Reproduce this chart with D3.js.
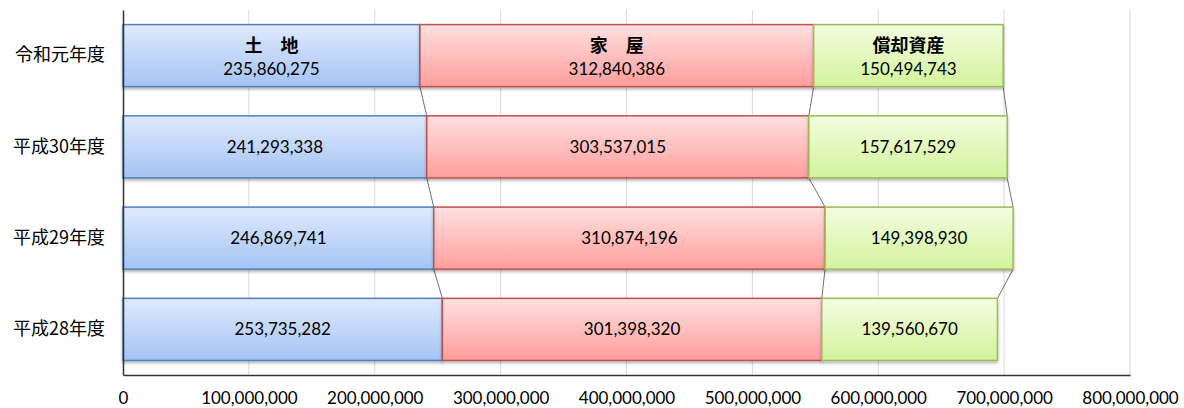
<!DOCTYPE html>
<html>
<head>
<meta charset="utf-8">
<script src="https://cdn.jsdelivr.net/npm/d3@7"></script>
<style>
  body { margin: 0; background: #fff; }
  text { font-family: Lato, "Noto Sans CJK JP", sans-serif; }
</style>
</head>
<body>
<div id="chart"></div>
<script>
// data
const years = ["令和元年度", "平成30年度", "平成29年度", "平成28年度"];
const seriesNames = ["土　地", "家　屋", "償却資産"];
const land = [235860275, 241293338, 246869741, 253735282];
const house = [312840386, 303537015, 310874196, 301398320];
const depreciable = [150494743, 157617529, 149398930, 139560670];
const ticks = [0, 100000000, 200000000, 300000000, 400000000, 500000000, 600000000, 700000000, 800000000];

const width = 1184, height = 408;
const margin = { top: 10, right: 54, bottom: 33, left: 123 };

const svg = d3.select("#chart").append("svg")
  .attr("width", width)
  .attr("height", height);

const x = d3.scaleLinear().domain([0, 800000000]).range([margin.left, width - margin.right]);
const y = d3.scaleBand().domain(years).range([margin.top, height - margin.bottom]).paddingInner(0.32).paddingOuter(0.16);

const defs = svg.append("defs");
const grads = [
  { id: "gLand", top: "#dfeafe", bottom: "#a5c3f4", stroke: "#4f81bd" },
  { id: "gHouse", top: "#ffe0e0", bottom: "#ff9e9c", stroke: "#c0504d" },
  { id: "gDep", top: "#f3fde0", bottom: "#d3f39d", stroke: "#9bbb59" }
];
grads.forEach(g => {
  const lg = defs.append("linearGradient").attr("id", g.id)
    .attr("x1", 0).attr("y1", 0).attr("x2", 0).attr("y2", 1);
  lg.append("stop").attr("offset", "0%").attr("stop-color", g.top);
  lg.append("stop").attr("offset", "100%").attr("stop-color", g.bottom);
});
const shadow = defs.append("filter").attr("id", "shadow")
  .attr("x", "-5%").attr("y", "-10%").attr("width", "110%").attr("height", "130%");
shadow.append("feDropShadow").attr("dx", 0).attr("dy", 2).attr("stdDeviation", 1.5)
  .attr("flood-color", "#000").attr("flood-opacity", 0.3);

// grid
svg.append("g").selectAll("line")
  .data(ticks.slice(1))
  .enter().append("line")
  .attr("x1", d => x(d)).attr("x2", d => x(d))
  .attr("y1", margin.top).attr("y2", height - margin.bottom)
  .attr("stroke", "#d9d9d9");

// stack
const rows = years.map((yr, i) => ({ year: yr, values: [land[i], house[i], depreciable[i]] }));
rows.forEach(r => {
  let acc = 0;
  r.segs = r.values.map((v, k) => {
    const s = { k, v, x0: acc, x1: acc + v, year: r.year };
    acc += v;
    return s;
  });
});

// series lines
const lines = svg.append("g");
for (let i = 0; i < rows.length - 1; i++) {
  for (let k = 0; k < 3; k++) {
    lines.append("line")
      .attr("x1", x(rows[i].segs[k].x1))
      .attr("y1", y(rows[i].year) + y.bandwidth())
      .attr("x2", x(rows[i + 1].segs[k].x1))
      .attr("y2", y(rows[i + 1].year))
      .attr("stroke", "#707070")
      .attr("stroke-width", 1);
  }
}

// bars
const barG = svg.append("g");
rows.forEach((r, i) => {
  r.segs.forEach(s => {
    barG.append("rect")
      .attr("x", x(s.x0))
      .attr("y", y(r.year))
      .attr("width", x(s.x1) - x(s.x0))
      .attr("height", y.bandwidth())
      .attr("fill", `url(#${grads[s.k].id})`)
      .attr("stroke", grads[s.k].stroke)
      .attr("stroke-width", 1.5)
      .attr("filter", "url(#shadow)");

    const cx = (x(s.x0) + x(s.x1)) / 2;
    const cy = y(r.year) + y.bandwidth() / 2;
    if (i === 0) {
      barG.append("text")
        .attr("x", cx).attr("y", cy - 4)
        .attr("text-anchor", "middle")
        .style("font-size", "18px")
        .style("font-weight", "bold")
        .style("font-family", "'Noto Sans CJK JP', sans-serif")
        .text(seriesNames[s.k]);
      barG.append("text")
        .attr("x", cx).attr("y", cy + 19)
        .attr("text-anchor", "middle")
        .style("font-size", "17px")
        .text(d3.format(",")(s.v));
    } else {
      barG.append("text")
        .attr("x", cx).attr("y", cy + 6)
        .attr("text-anchor", "middle")
        .style("font-size", "17px")
        .text(d3.format(",")(s.v));
    }
  });
});

// axes
const xAxis = svg.append("g")
  .attr("transform", `translate(0,${height - margin.bottom})`)
  .call(d3.axisBottom(x).tickValues(ticks).tickFormat(d3.format(",")).tickSize(0).tickPadding(17));
xAxis.select(".domain").attr("stroke", "#333").attr("stroke-width", 1.5);
xAxis.selectAll("text").style("font-size", "17px").attr("fill", "#000")
  .style("font-family", "Lato, sans-serif");

const yAxis = svg.append("g")
  .attr("transform", `translate(${margin.left},0)`)
  .call(d3.axisLeft(y).tickSize(0).tickPadding(18));
yAxis.select(".domain").attr("stroke", "#333").attr("stroke-width", 1.5);
yAxis.selectAll("text").style("font-size", "18px").attr("fill", "#000")
  .style("font-family", "'Noto Sans CJK JP', sans-serif");
</script>
</body>
</html>
